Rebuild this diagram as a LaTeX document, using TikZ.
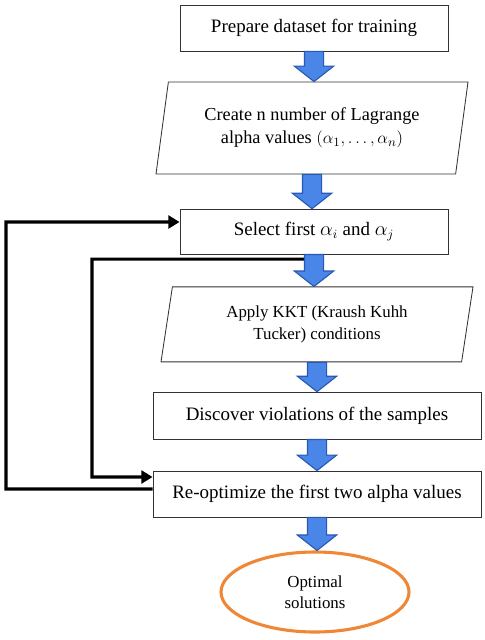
\documentclass[tikz,border=0pt]{standalone}
\usepackage{fontspec}
\setmainfont{Liberation Serif}
\usetikzlibrary{shapes.geometric,arrows.meta,calc}

\definecolor{flowfill}{RGB}{74,134,232}
\definecolor{flowedge}{RGB}{40,88,178}
\definecolor{endorange}{RGB}{240,135,55}

\begin{document}
\begin{tikzpicture}[
                > = {Triangle[length=2.8mm,width=3.2mm]},
                box/.style={ rectangle, draw = black!80, line width = 0.6pt, align = center, font = \fontsize{13.5}{16}\selectfont },
                slanted/.style={ trapezium, trapezium left angle = 76, trapezium right angle = 104, trapezium stretches body, draw = black!80, line width = 0.6pt, align = center, font = \fontsize{12}{15}\selectfont },
                goal/.style={ ellipse, draw = endorange, line width = 2.2pt, align = center, font = \fontsize{12}{15}\selectfont },
                feedback/.style={ ->, line width = 2.2pt },
                flow/.style={ draw = flowedge, fill = flowfill, line width = 0.8pt,
                    to path={ let \p1 = (\tikztostart), \p2 = (\tikztotarget) in
                        (\x1-6.8pt,\y1) -- (\x1-6.8pt,\y2+11pt) -- (\x1-14pt,\y2+11pt) -- (\x1,\y2)
                        -- (\x1+14pt,\y2+11pt) -- (\x1+6.8pt,\y2+11pt) -- (\x1+6.8pt,\y1) -- cycle } }
            ]
            \useasboundingbox (0,0) rectangle (12.1,-16);

            \node (prep)   [box, minimum width = 6.7cm, minimum height = 1.15cm]     at (7.85, -0.7)   {Prepare dataset for training};
            \node (create) [slanted, minimum width = 7.8cm, minimum height = 2.3cm, font = \fontsize{13}{16.5}\selectfont] at (7.8, -3.2) {Create n number of Lagrange\\alpha values $(\alpha_1, \dots, \alpha_n)$};
            \node (select) [box, minimum width = 6.7cm, minimum height = 1.125cm]    at (7.85, -5.79)  {Select first $\alpha_i$ and $\alpha_j$};
            \node (kkt)    [slanted, minimum width = 7.8cm, minimum height = 1.875cm] at (7.925, -8.11) {Apply KKT (Kraush Kuhh\\Tucker) conditions};
            \node (viol)   [box, minimum width = 8.2cm, minimum height = 1.175cm]    at (7.925, -10.39) {Discover violations of the samples};
            \node (reopt)  [box, minimum width = 8.2cm, minimum height = 1.15cm]     at (7.925, -12.35) {Re-optimize the first two alpha values};
            \node (opt)    [goal, minimum width = 4.7cm, minimum height = 2cm]       at (7.875, -14.8) {Optimal\\solutions};

            % loops back
            \draw [feedback] ([yshift=1.25mm]reopt.west) -| (0.15, -5.55) -- ([yshift=2.4mm]select.west);
            \draw [feedback] (7.72, -6.48) -| (2.3, -11.925) -- ([yshift=4.25mm]reopt.west);

            \draw [flow] (prep.south)   to (create.north);
            \draw [flow] (create.south) to (select.north);
            \draw [flow] (select.south) to (kkt.north);
            \draw [flow] (kkt.south)    to (viol.north);
            \draw [flow] (viol.south)   to (reopt.north);
            \draw [flow] (reopt.south)  to (opt.north);
        \end{tikzpicture}
\end{document}
